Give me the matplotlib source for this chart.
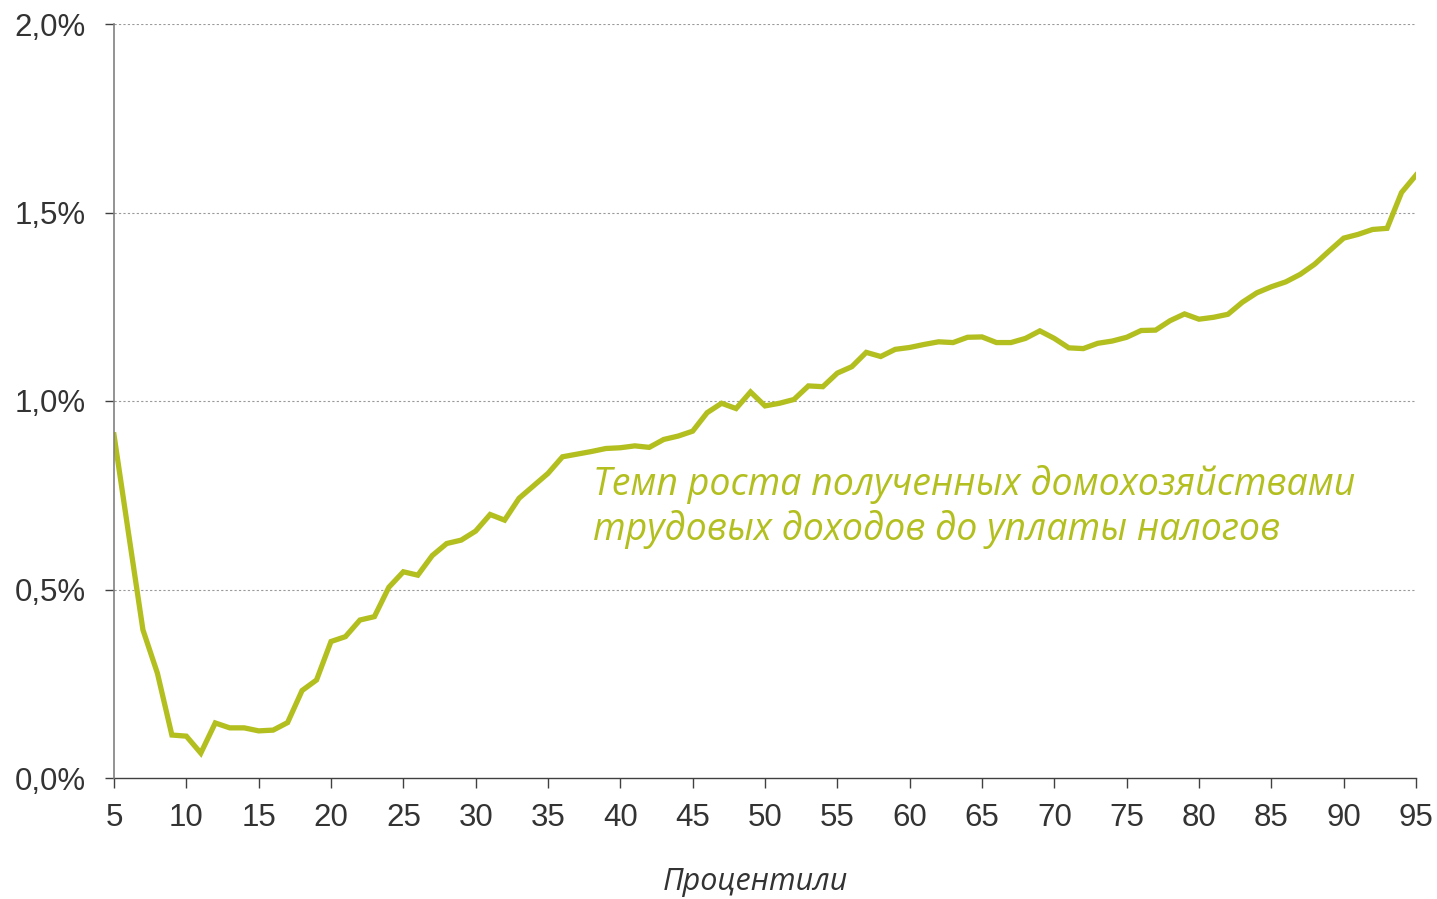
import matplotlib
matplotlib.use("Agg")
import matplotlib.pyplot as plt
from matplotlib.ticker import FixedLocator

percentiles = list(range(5, 96))
growth = [
    0.91, 0.65, 0.393, 0.278, 0.114, 0.111, 0.066, 0.146, 0.133, 0.133,
    0.125, 0.127, 0.147, 0.232, 0.26, 0.362, 0.375, 0.419, 0.428, 0.506,
    0.547, 0.538, 0.59, 0.622, 0.631, 0.655, 0.699, 0.684, 0.742, 0.775,
    0.808, 0.852, 0.859, 0.866, 0.874, 0.876, 0.881, 0.877, 0.898, 0.907,
    0.920, 0.969, 0.994, 0.98, 1.024, 0.987, 0.994, 1.004, 1.040, 1.038,
    1.074, 1.091, 1.129, 1.118, 1.137, 1.142, 1.150, 1.157, 1.155, 1.169,
    1.170, 1.155, 1.155, 1.166, 1.186, 1.166, 1.141, 1.139, 1.153, 1.159,
    1.169, 1.187, 1.188, 1.213, 1.231, 1.217, 1.222, 1.230, 1.262, 1.287,
    1.303, 1.316, 1.336, 1.363, 1.398, 1.432, 1.442, 1.455, 1.458, 1.553,
    1.599,
]
x_ticks = list(range(5, 96, 5))
y_ticks = [0.0, 0.5, 1.0, 1.5, 2.0]
y_tick_labels = ["0,0%", "0,5%", "1,0%", "1,5%", "2,0%"]
series_label_lines = ["Темп роста полученных домохозяйствами",
                      "трудовых доходов до уплаты налогов"]
x_label = "Процентили"

line_color = "#B2BF1F"
text_gray = "#333333"

W, H = 1437, 899
fig = plt.figure(figsize=(W / 100, H / 100), dpi=100)
ax = fig.add_axes([114 / W, 1 - 778 / H, (1416 - 114) / W, (778 - 24) / H])

for yv in y_ticks[1:]:
    ax.axhline(yv, color="#9a9a9a", linestyle=(0, (2, 2)), linewidth=0.8, zorder=1)

ax.plot(percentiles, growth, color=line_color, linewidth=3.8, solid_joinstyle="miter", zorder=3)

ax.set_xlim(5, 95)
ax.set_ylim(0, 2.0)
ax.xaxis.set_major_locator(FixedLocator(x_ticks))
ax.set_xticklabels([str(v) for v in x_ticks])
ax.yaxis.set_major_locator(FixedLocator(y_ticks))
ax.set_yticklabels(y_tick_labels)

for s in ["top", "right"]:
    ax.spines[s].set_visible(False)
ax.spines["left"].set_color("#808080")
ax.spines["left"].set_linewidth(1.2)
ax.spines["bottom"].set_color("#404040")
ax.spines["bottom"].set_linewidth(1.0)
ax.spines["left"].set_zorder(4)

ax.tick_params(axis="x", direction="out", length=7, width=1.0, color="#404040",
               labelsize=22.5, labelcolor=text_gray, pad=11)
ax.tick_params(axis="y", direction="out", length=6.5, width=1.0, color="#404040",
               labelsize=22.5, labelcolor=text_gray, pad=14)
for lab in ax.get_xticklabels() + ax.get_yticklabels():
    lab.set_fontfamily(["Liberation Sans", "DejaVu Sans"])

baselines = [495, 540]
for line, yb in zip(series_label_lines, baselines):
    fig.text(593 / W, 1 - yb / H, line, color=line_color,
             fontsize=27, fontstyle="italic", family=["Open Sans", "DejaVu Sans"],
             ha="left", va="baseline")
fig.text(755 / W, 1 - 890 / H, x_label, color=text_gray, fontsize=22,
         fontstyle="italic", family=["Open Sans", "DejaVu Sans"], ha="center", va="baseline")

fig.savefig("out.png", dpi=100)
